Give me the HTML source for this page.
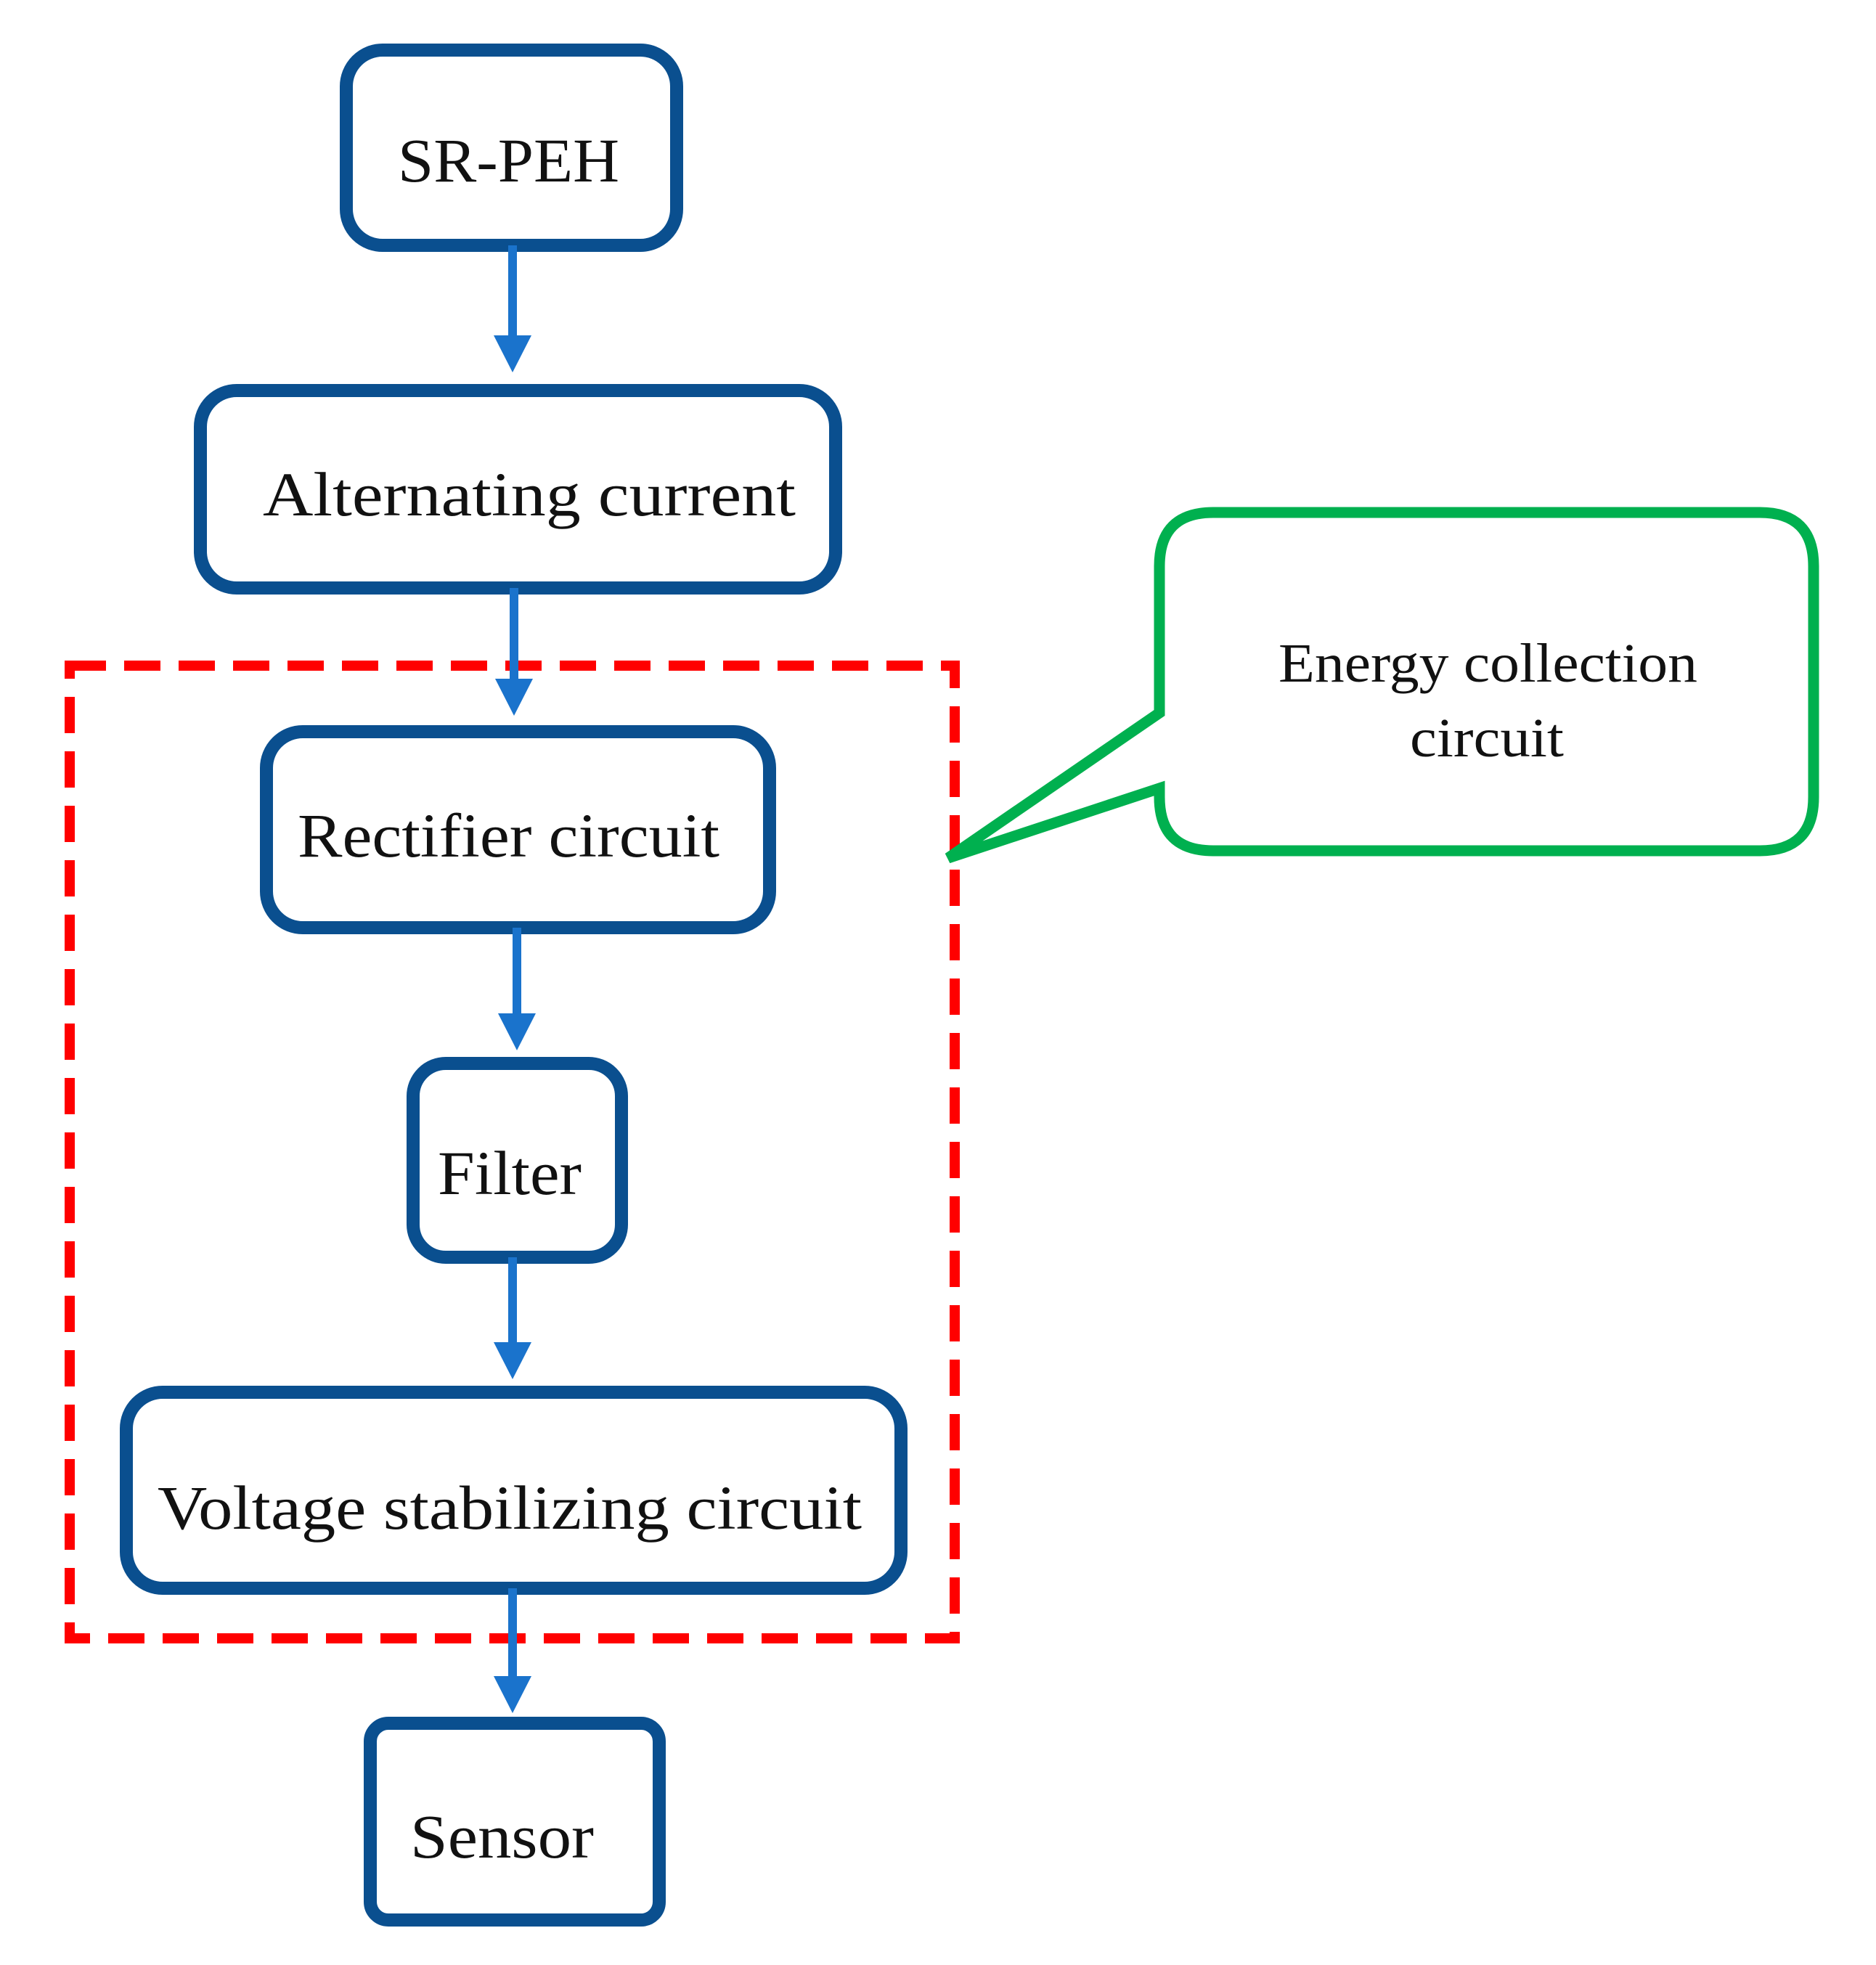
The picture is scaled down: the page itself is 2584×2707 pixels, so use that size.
<!DOCTYPE html>
<html><head><meta charset="utf-8"><style>html,body{margin:0;padding:0;background:#fff}svg{display:block}</style></head>
<body>
<svg width="2584" height="2707" viewBox="0 0 2584 2707" xmlns="http://www.w3.org/2000/svg" font-family="'Liberation Serif', serif" font-size="86" fill="#111">
<g fill="#fff" stroke="#0a4f8f" stroke-width="18">
<rect x="477" y="69" width="455" height="269" rx="50"/>
<rect x="276" y="538" width="875" height="272" rx="50"/>
<rect x="367" y="1008" width="693" height="270" rx="50"/>
<rect x="569" y="1465" width="287" height="267" rx="45"/>
<rect x="174" y="1918" width="1067" height="270" rx="50"/>
<rect x="510" y="2374" width="398" height="271" rx="25"/>
</g>
<rect x="96" y="917" width="1219" height="1340" fill="none" stroke="#ff0000" stroke-width="14" stroke-dasharray="50,25"/>
<path d="M1597 982 L1597 780 Q1597 706 1671 706 L2424 706 Q2498 706 2498 780 L2498 1098 Q2498 1172 2424 1172 L1671 1172 Q1597 1172 1597 1098 L1597 1086 L1306 1182 Z" fill="#fff" stroke="#00b04f" stroke-width="15" stroke-linejoin="miter"/>
<g stroke="#1a73cc" stroke-width="12" fill="#1a73cc">
<line x1="706" y1="338" x2="706" y2="470"/><polygon points="680,462 732,462 706,513" stroke="none"/>
<line x1="708" y1="810" x2="708" y2="943"/><polygon points="682,935 734,935 708,986" stroke="none"/>
<line x1="712" y1="1278" x2="712" y2="1404"/><polygon points="686,1396 738,1396 712,1447" stroke="none"/>
<line x1="706" y1="1732" x2="706" y2="1857"/><polygon points="680,1849 732,1849 706,1900" stroke="none"/>
<line x1="706" y1="2188" x2="706" y2="2317"/><polygon points="680,2309 732,2309 706,2360" stroke="none"/>
</g>
<g stroke="none">
<text x="548" y="250" textLength="305" lengthAdjust="spacingAndGlyphs">SR-PEH</text>
<text x="362" y="710" textLength="734" lengthAdjust="spacingAndGlyphs">Alternating current</text>
<text x="410" y="1180" textLength="581" lengthAdjust="spacingAndGlyphs">Rectifier circuit</text>
<text x="603" y="1645" textLength="198" lengthAdjust="spacingAndGlyphs">Filter</text>
<text x="217" y="2106" textLength="970" lengthAdjust="spacingAndGlyphs">Voltage stabilizing circuit</text>
<text x="565" y="2559" textLength="253" lengthAdjust="spacingAndGlyphs">Sensor</text>
<text x="1761" y="939" font-size="76" textLength="577" lengthAdjust="spacingAndGlyphs">Energy collection</text>
<text x="1942" y="1042" font-size="76" textLength="212" lengthAdjust="spacingAndGlyphs">circuit</text>
</g>
</svg>
</body></html>
